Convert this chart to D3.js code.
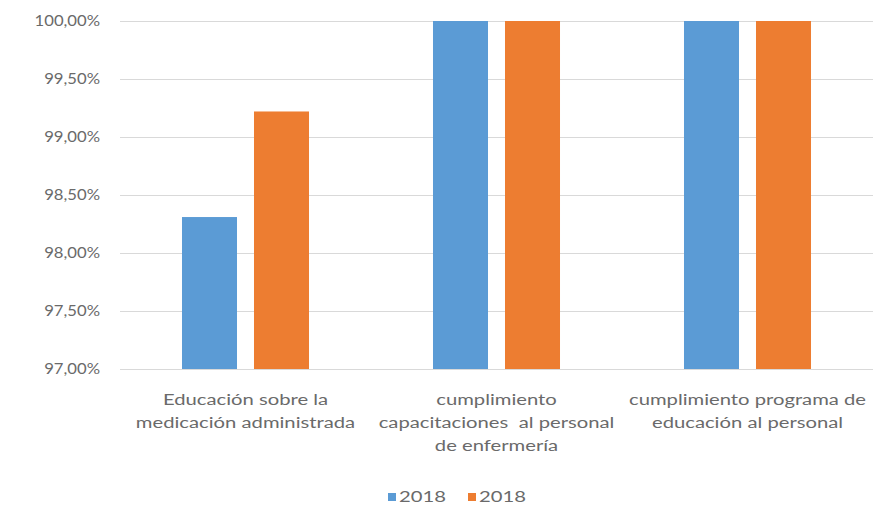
<!DOCTYPE html>
<html>
<head>
<meta charset="utf-8">
<script src="https://cdn.jsdelivr.net/npm/d3@7"></script>
<style>
  html, body { margin: 0; padding: 0; background: #fff; }
  svg text { font-family: Lato, "Open Sans", sans-serif; fill: #6a6a6a; }
</style>
</head>
<body>
<svg id="chart" width="884" height="511"></svg>
<script>
// Chart data
const categories = [
  ["Educación sobre la", "medicación administrada"],
  ["cumplimiento", "capacitaciones  al personal", "de enfermería"],
  ["cumplimiento programa de", "educación al personal"]
];
const seriesNames = ["2018", "2018"];
const seriesColors = ["#5B9BD5", "#ED7D31"];
const seriesA = [98.31, 100.0, 100.0];
const seriesB = [99.22, 100.0, 100.0];
const yTicks = [97.0, 97.5, 98.0, 98.5, 99.0, 99.5, 100.0];

const svg = d3.select("#chart");
const margin = { left: 120, right: 11, top: 21, bottom: 142 };
const W = 884, H = 511;
const innerW = W - margin.left - margin.right;
const innerH = H - margin.top - margin.bottom;
const FONT = 15;       // text size
const SX = 1.35;       // wide lettering for category and legend text
const SX_Y = 1.15;     // wide lettering for value-axis text
const TEXT = "#6a6a6a";

const g = svg.append("g").attr("transform", `translate(${margin.left},${margin.top})`);

const y = d3.scaleLinear().domain([97, 100]).range([innerH, 0]);
const x0 = d3.scaleBand().domain(d3.range(categories.length)).range([0, innerW]).padding(0);
const x1 = d3.scaleBand().domain([0, 1]).range([0, x0.bandwidth()])
  .paddingInner(0.236).paddingOuter(0.861);

const fmt = v => d3.format(".2f")(v).replace(".", ",") + "%";

// Gridlines
g.append("g").selectAll("line").data(yTicks).join("line")
  .attr("x1", 0).attr("x2", innerW)
  .attr("y1", d => Math.round(y(d)) + 0.5).attr("y2", d => Math.round(y(d)) + 0.5)
  .attr("stroke", "#D9D9D9").attr("stroke-width", 1);

// Y axis labels
const yAxis = d3.axisLeft(y).tickValues(yTicks).tickFormat(fmt).tickSize(0).tickPadding(0);
const ya = g.append("g").call(yAxis);
ya.select(".domain").remove();
ya.selectAll("text")
  .attr("x", 0)
  .attr("transform", `translate(-20,0) scale(${SX_Y},1)`)
  .attr("font-size", 14.5).style("fill", TEXT)
  .attr("font-family", "Lato, 'Open Sans', sans-serif");

// Bars
const data = categories.map((c, i) => [seriesA[i], seriesB[i]]);
const groups = g.append("g").selectAll("g").data(data).join("g")
  .attr("transform", (d, i) => `translate(${x0(i)},0)`);
groups.selectAll("rect").data(d => d.map((v, s) => ({ v, s }))).join("rect")
  .attr("x", d => x1(d.s))
  .attr("width", x1.bandwidth())
  .attr("y", d => y(d.v))
  .attr("height", d => y(97) - y(d.v))
  .attr("fill", d => seriesColors[d.s]);

// Category labels
const catG = g.append("g").attr("transform", `translate(0,${innerH})`);
categories.forEach((lines, i) => {
  const cx = x0(i) + x0.bandwidth() / 2;
  lines.forEach((ln, k) => {
    catG.append("text")
      .attr("transform", `translate(${cx},${36 + k * 23}) scale(${SX},1)`)
      .attr("text-anchor", "middle")
      .attr("font-size", FONT)
      .style("white-space", "pre")
      .text(ln);
  });
});

// Legend
const legend = svg.append("g").attr("transform", `translate(388,497)`);
const items = legend.selectAll("g").data(seriesNames).join("g")
  .attr("transform", (d, i) => `translate(${i * 80},0)`);
items.append("rect").attr("x", 0).attr("y", -4).attr("width", 8).attr("height", 8)
  .attr("fill", (d, i) => seriesColors[i]);
items.append("text")
  .attr("transform", `translate(11,0) scale(${SX},1)`)
  .attr("dy", "0.35em")
  .attr("font-size", FONT).text(d => d);
</script>
</body>
</html>
